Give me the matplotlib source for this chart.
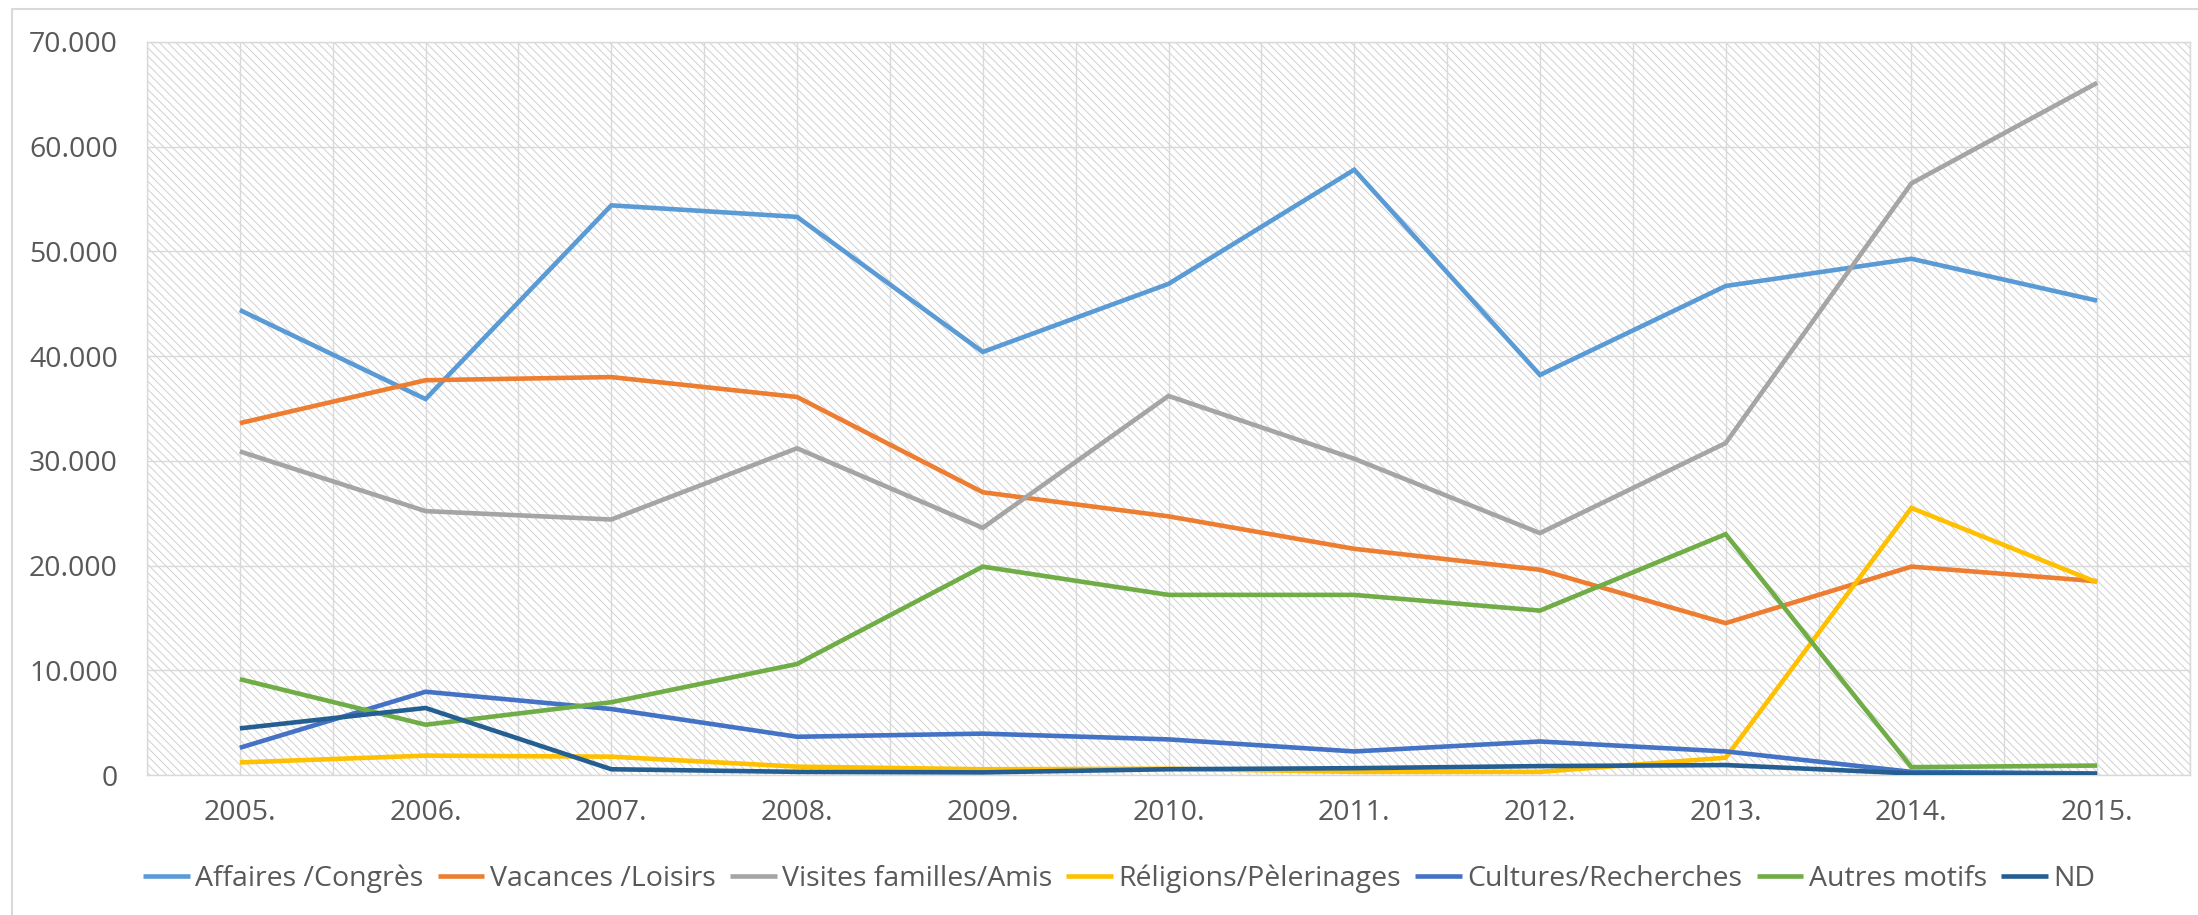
import matplotlib
matplotlib.use("Agg")
import matplotlib.pyplot as plt
from matplotlib import font_manager
from matplotlib.patches import Rectangle
from matplotlib.ticker import FuncFormatter, FixedLocator
import numpy as np

# ---------------- data ----------------
years = ["2005.", "2006.", "2007.", "2008.", "2009.", "2010.",
         "2011.", "2012.", "2013.", "2014.", "2015."]

affaires = [44400, 35900, 54400, 53300, 40400, 46900, 57800, 38200, 46700, 49300, 45300]
vacances = [33600, 37700, 38000, 36100, 27000, 24700, 21600, 19600, 14500, 19900, 18500]
visites = [30900, 25200, 24400, 31200, 23600, 36200, 30200, 23100, 31700, 56500, 66100]
religions = [1200, 1850, 1750, 800, 550, 600, 300, 300, 1650, 25500, 18400]
cultures = [2600, 7950, 6300, 3650, 3950, 3400, 2250, 3200, 2250, 300, 150]
autres = [9150, 4800, 6950, 10600, 19900, 17200, 17200, 15700, 23000, 750, 900]
nd = [4450, 6400, 550, 300, 250, 550, 650, 850, 950, 150, 100]

series_names = ["Affaires /Congrès", "Vacances /Loisirs", "Visites familles/Amis",
                "Réligions/Pèlerinages", "Cultures/Recherches", "Autres motifs", "ND"]
series_values = [affaires, vacances, visites, religions, cultures, autres, nd]
series_colors = ["#5B9BD5", "#ED7D31", "#A5A5A5", "#FFC000", "#4472C4", "#70AD47", "#255E91"]

y_ticks = [0, 10000, 20000, 30000, 40000, 50000, 60000, 70000]

# ---------------- fonts ----------------
names = {f.name for f in font_manager.fontManager.ttflist}
if "Liberation Sans Narrow" in names:
    fam, fs = "Liberation Sans Narrow", 23.5
else:
    fam, fs = "Open Sans", 20.5
plt.rcParams["font.family"] = [fam, "DejaVu Sans"]
plt.rcParams["hatch.linewidth"] = 0.65

text_color = "#595959"
grid_color = "#D9D9D9"

W, H = 2198, 915
fig = plt.figure(figsize=(W / 100, H / 100), dpi=100)

# outer chart border (cropped at right/bottom)
fig.patches.append(Rectangle((12 / W, -0.05), 1.2, 1 - 9 / H + 0.05,
                             transform=fig.transFigure, fill=False,
                             edgecolor=grid_color, linewidth=1.5, zorder=0))

left, right, top, bottom = 147, 2190, 42, 775
ax = fig.add_axes([left / W, 1 - bottom / H, (right - left) / W, (bottom - top) / H])

# hatched plot background
ax.add_patch(Rectangle((0, 0), 1, 1, transform=ax.transAxes, facecolor="white",
                       edgecolor="#cdcdcd", hatch="\\\\\\\\", linewidth=0, zorder=0))

x = np.arange(len(years))
for name, vals, col in zip(series_names, series_values, series_colors):
    ax.plot(x, vals, color=col, linewidth=3.3, label=name,
            solid_joinstyle="miter", solid_capstyle="butt", zorder=3)

ax.set_xlim(-0.5, len(years) - 0.5)
ax.set_ylim(0, 70000)
ax.set_yticks(y_ticks)
ax.yaxis.set_major_formatter(FuncFormatter(lambda v, p: f"{int(v):,}".replace(",", ".")))
ax.set_xticks(x)
ax.set_xticklabels(years)
ax.xaxis.set_minor_locator(FixedLocator(np.arange(-0.5, len(years), 1.0)))

ax.set_axisbelow(True)
ax.grid(True, which="major", axis="both", color=grid_color, linewidth=1.0, zorder=1)
ax.grid(True, which="minor", axis="x", color=grid_color, linewidth=1.0, zorder=1)

ax.tick_params(axis="both", which="both", length=0, labelcolor=text_color, labelsize=fs)
ax.tick_params(axis="y", pad=21)
ax.tick_params(axis="x", pad=17)
for s in ax.spines.values():
    s.set_color(grid_color)
    s.set_linewidth(1.0)

leg = fig.legend(loc="center", bbox_to_anchor=(1119 / W, 1 - 879 / H), ncol=7,
                 frameon=False, fontsize=fs, handlelength=1.65, handletextpad=0.18,
                 columnspacing=0.5, borderaxespad=0, borderpad=0)
for t in leg.get_texts():
    t.set_color(text_color)

fig.savefig("out.png", dpi=100)
